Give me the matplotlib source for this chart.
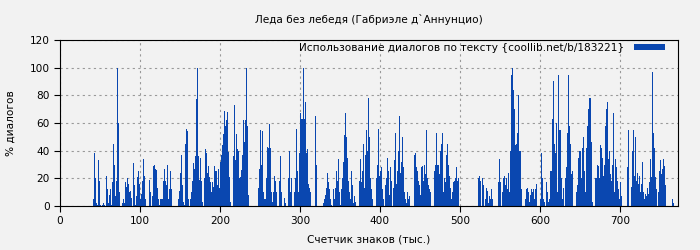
import numpy as np
import matplotlib
matplotlib.use("Agg")
import matplotlib.pyplot as plt

# Данные: доля диалогов (%) по счетчику знаков (тыс.), шаг выборки 1.25 тыс.
start_k = 41.25
step_k = 1.25

share = [
    # ~41 .. 124
    5, 38, 20, 2, 1, 33, 18, 1, 0, 1,
    2, 1, 0, 22, 12, 2, 8, 12, 1, 17,
    45, 30, 7, 18, 100, 60, 10, 0, 0, 2,
    5, 2, 17, 14, 20, 16, 10, 11, 6, 0,
    31, 15, 1, 7, 21, 25, 16, 5, 9, 18,
    34, 22, 5, 0, 0, 0, 19, 10, 0, 7,
    29, 30, 27, 26, 13, 5, 1,
    # ~125 .. 259
    5, 5, 5, 18, 27, 18, 15, 30, 5, 12,
    25, 12, 0, 0, 0, 0, 0, 0, 5, 11,
    24, 37, 15, 3, 1, 45, 56, 54, 5, 0,
    5, 10, 18, 31, 27, 36, 77, 100, 36, 19,
    35, 18, 3, 0, 20, 41, 38, 24, 29, 21,
    17, 10, 17, 14, 29, 25, 25, 15, 27, 13,
    32, 37, 44, 52, 69, 58, 62, 68, 39, 21,
    3, 0, 0, 36, 73, 33, 52, 41, 40, 20,
    21, 26, 37, 62, 46, 62, 100, 58, 8, 0,
    0, 0, 0, 0, 0, 0, 0, 0, 13, 27,
    55, 30, 54, 10, 5, 5, 20, 43,
    # ~260 .. 387
    42, 59, 42, 10, 3, 10, 22, 18, 10, 0,
    0, 18, 36, 10, 0, 0, 6, 2, 0, 0,
    20, 40, 10, 20, 0, 0, 10, 20, 56, 25,
    10, 38, 67, 63, 63, 100, 63, 75, 38, 41,
    16, 13, 10, 0, 0, 0, 0, 65, 30, 0,
    0, 0, 0, 0, 0, 2, 5, 8, 13, 24,
    17, 12, 5, 1, 0, 12, 5, 13, 25, 18,
    34, 10, 1, 12, 20, 32, 51, 67, 50, 35,
    18, 10, 5, 25, 15, 2, 7, 3, 0, 0,
    0, 18, 34, 17, 25, 45, 13, 37, 55, 40,
    78, 50,
    # ~387 .. 522
    20, 12, 5, 0, 0, 0, 20, 30, 56, 22,
    25, 28, 12, 5, 0, 15, 20, 35, 25, 8,
    28, 18, 0, 13, 33, 53, 16, 25, 40, 65,
    24, 32, 50, 28, 10, 5, 2, 10, 5, 7,
    0, 0, 0, 0, 37, 38, 28, 25, 18, 15,
    8, 28, 29, 18, 30, 23, 55, 20, 15, 12,
    10, 0, 0, 0, 25, 30, 53, 30, 30, 23,
    40, 45, 53, 10, 20, 17, 37, 45, 30, 22,
    13, 5, 10, 17, 18, 20, 28, 18, 20, 0,
    0, 0, 0, 0, 0, 0, 0, 0, 0, 0,
    0, 0, 0, 0, 0, 0, 0, 0,
    # ~522 .. 649
    20, 22, 18, 0, 20, 15, 0, 5, 13, 11,
    2, 7, 5, 12, 5, 0, 0, 0, 0, 0,
    17, 34, 17, 0, 10, 20, 22, 15, 20, 12,
    24, 10, 40, 95, 100, 84, 70, 44, 45, 53,
    80, 40, 40, 12, 0, 0, 0, 5, 12, 13,
    10, 3, 8, 12, 10, 12, 5, 12, 16, 0,
    0, 0, 5, 38, 20, 5, 3, 0, 17, 10,
    3, 5, 25, 25, 63, 90, 45, 38, 60, 10,
    95, 55, 55, 20, 5, 13, 0, 20, 28, 53,
    95, 58, 45, 23, 25, 0, 0, 0, 10, 15,
    35, 40,
    # ~650 .. 767
    40, 20, 42, 50, 25, 10, 42, 58, 70, 78,
    78, 46, 3, 0, 0, 20, 20, 30, 29, 20,
    44, 42, 35, 22, 30, 58, 70, 75, 34, 40,
    23, 18, 30, 67, 10, 34, 28, 18, 12, 5,
    17, 7, 0, 0, 0, 0, 0, 28, 55, 0,
    0, 14, 40, 55, 22, 50, 18, 24, 16, 22,
    10, 16, 32, 10, 5, 9, 7, 13, 9, 17,
    34, 21, 97, 53, 42, 21, 12, 0, 10, 25,
    33, 23, 27, 34, 29, 15, 0, 0, 0, 0,
    0, 0, 5, 2,
]

x_ticks = [0, 100, 200, 300, 400, 500, 600, 700]
y_ticks = [0, 20, 40, 60, 80, 100, 120]

title = "Леда без лебедя (Габриэле д`Аннунцио)"
legend_label = "Использование диалогов по тексту {coollib.net/b/183221}"

BG = "#f2f2f2"
BAR = "#0a47b0"
FS = 7.6

plt.rcParams["font.family"] = "DejaVu Sans"
plt.rcParams["font.size"] = FS

fig = plt.figure(figsize=(7, 2.5), dpi=100, facecolor=BG)
ax = fig.add_axes([60 / 700, 44 / 250, 618 / 700, 166 / 250])
ax.set_facecolor(BG)

xs = start_k + step_k * np.arange(len(share))
ax.bar(xs, share, width=step_k, align="edge", color=BAR, linewidth=0,
       antialiased=False, label=legend_label, zorder=2)

ax.set_xlim(0, 772.5)
ax.set_ylim(0, 120)
ax.set_xticks(x_ticks)
ax.set_yticks(y_ticks)
ax.grid(True, color="#999999", linestyle=(0, (2, 3)), linewidth=0.8, zorder=0)
ax.set_axisbelow(True)
ax.tick_params(length=4, width=0.8, labelsize=FS)

ax.set_title(title, fontsize=FS, pad=12)
ax.set_xlabel("Счетчик знаков (тыс.)", fontsize=FS, labelpad=6)
ax.set_ylabel("% диалогов", fontsize=FS, labelpad=10)

leg = ax.legend(loc="upper right", bbox_to_anchor=(0.989, 1.02),
                frameon=False, markerfirst=False,
                handlelength=2.9, handleheight=0.55, fontsize=FS,
                borderaxespad=0.2, handletextpad=1.0)

fig.savefig("out.png", dpi=100, facecolor=BG)
